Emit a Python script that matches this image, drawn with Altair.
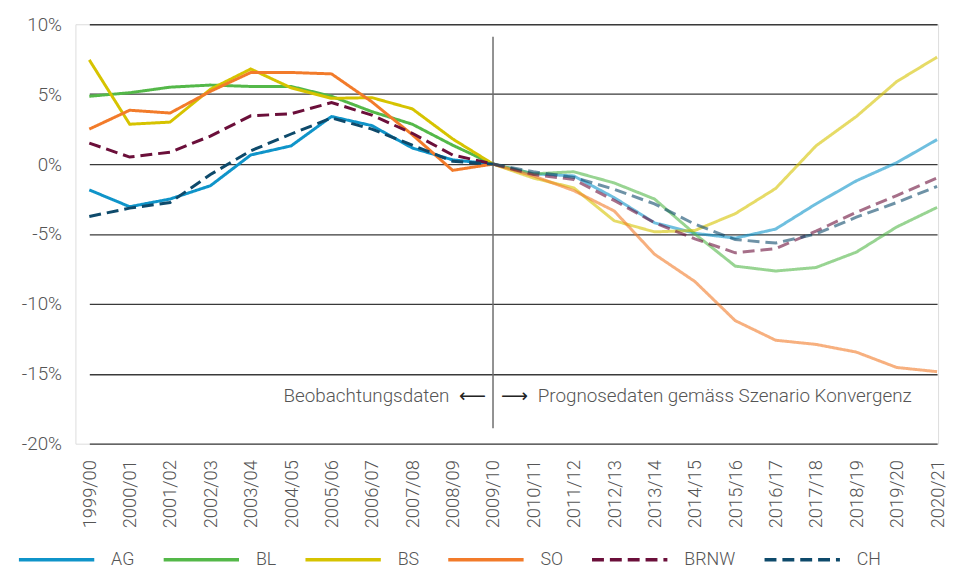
import altair as alt
import pandas as pd

categories = ["1999/00", "2000/01", "2001/02", "2002/03", "2003/04", "2004/05",
              "2005/06", "2006/07", "2007/08", "2008/09", "2009/10", "2010/11",
              "2011/12", "2012/13", "2013/14", "2014/15", "2015/16", "2016/17",
              "2017/18", "2018/19", "2019/20", "2020/21"]

AG = [-1.85, -3.05, -2.5, -1.55, 0.65, 1.3, 3.4, 2.75, 1.15, 0.3, 0.0,
      -0.7, -0.85, -2.4, -4.2, -4.95, -5.3, -4.65, -2.85, -1.2, 0.1, 1.75]
BL = [4.85, 5.1, 5.5, 5.65, 5.55, 5.55, 4.85, 3.75, 2.85, 1.35, 0.0,
      -0.7, -0.55, -1.35, -2.5, -5.0, -7.3, -7.65, -7.4, -6.3, -4.5, -3.1]
BS = [7.45, 2.85, 3.0, 5.35, 6.8, 5.45, 4.7, 4.75, 3.95, 1.8, 0.0,
      -1.0, -1.7, -4.05, -4.85, -4.75, -3.55, -1.75, 1.3, 3.4, 5.9, 7.65]
SO = [2.5, 3.85, 3.65, 5.2, 6.55, 6.55, 6.45, 4.45, 2.1, -0.45, 0.0,
      -0.85, -1.9, -3.35, -6.45, -8.4, -11.2, -12.6, -12.9, -13.45, -14.55, -14.85]
BRNW = [1.5, 0.5, 0.85, 2.0, 3.45, 3.6, 4.4, 3.5, 2.2, 0.65, 0.0,
        -0.75, -1.1, -2.6, -4.2, -5.35, -6.35, -6.05, -4.8, -3.45, -2.25, -1.0]
CH = [-3.75, -3.15, -2.75, -0.75, 0.95, 2.15, 3.3, 2.5, 1.35, 0.2, 0.0,
      -0.55, -0.95, -1.8, -2.85, -4.3, -5.4, -5.65, -5.0, -3.8, -2.75, -1.6]

series_names = ["AG", "BL", "BS", "SO", "BRNW", "CH"]
series_values = [AG, BL, BS, SO, BRNW, CH]
series_colors = ["#0f94c9", "#54b849", "#d6c300", "#f27b2a", "#6b0f3a", "#0e4a6b"]
series_dash = [[1, 0], [1, 0], [1, 0], [1, 0], [12, 6], [12, 6]]

annot_left = "Beobachtungsdaten"
annot_right = "Prognosedaten gemäss Szenario Konvergenz"

split_index = categories.index("2009/10")

rows = []
for name, vals in zip(series_names, series_values):
    for i, (c, v) in enumerate(zip(categories, vals)):
        if i <= split_index:
            rows.append({"cat": c, "value": v, "series": name, "phase": "obs"})
        if i >= split_index:
            rows.append({"cat": c, "value": v, "series": name, "phase": "fc"})
df = pd.DataFrame(rows)

FONT = "Roboto"
TXT = "#555555"

x_enc = alt.X("cat:O", sort=categories, title=None,
              scale=alt.Scale(type="point", range=[14, 869], padding=0),
              axis=alt.Axis(labelAngle=270, labelFontSize=18.5, labelColor=TXT,
                            labelFont=FONT, labelFontWeight=300, labelPadding=16,
                            domain=False, ticks=False, grid=False,
                            labelAlign="right", labelBaseline="middle"))

y_enc = alt.Y("value:Q", title=None,
              scale=alt.Scale(domain=[-20, 10], nice=False, zero=False),
              axis=alt.Axis(values=[-20, -15, -10, -5, 0, 5, 10],
                            labelExpr="datum.value + '%'",
                            labelFontSize=19, labelColor=TXT, labelFont=FONT,
                            labelFontWeight=300, labelPadding=14,
                            domain=False, ticks=False, grid=True,
                            gridColor="#3a3a3a", gridWidth=1.3))

legend_kw = dict(title=None, orient="none", direction="horizontal",
                 legendX=-59, legendY=500,
                 symbolType="stroke", symbolSize=5776,
                 symbolStrokeWidth=3.5, labelFontSize=18,
                 labelFont=FONT, labelFontWeight=300,
                 labelColor=TXT, labelOffset=15,
                 columnPadding=22, columns=6)

lines = alt.Chart(df).mark_line(strokeWidth=3).encode(
    x=x_enc,
    y=y_enc,
    color=alt.Color("series:N",
                    scale=alt.Scale(domain=series_names, range=series_colors),
                    sort=series_names,
                    legend=alt.Legend(**legend_kw)),
    strokeDash=alt.StrokeDash("series:N",
                              scale=alt.Scale(domain=series_names, range=series_dash),
                              sort=series_names,
                              legend=alt.Legend(**legend_kw)),
    opacity=alt.Opacity("phase:N",
                        scale=alt.Scale(domain=["obs", "fc"], range=[1.0, 0.6]),
                        legend=None),
    detail="phase:N",
)

divider = pd.DataFrame({"cat": ["2009/10"], "top": [9.1], "bottom": [-18.9]})
rule = alt.Chart(divider).mark_rule(color="#6e6e6e", strokeWidth=1.5).encode(
    x=alt.X("cat:O", sort=categories),
    y="top:Q",
    y2="bottom:Q",
)

annot = pd.DataFrame({"cat": ["2009/10"], "value": [-16.6],
                      "left": [annot_left], "right": [annot_right],
                      "la": ["\u27F5"], "ra": ["\u27F6"]})
base_t = alt.Chart(annot)
left_txt = base_t.mark_text(align="right", baseline="middle", dx=-44, fontSize=19,
                            font=FONT, fontWeight=300, color=TXT).encode(
    x=alt.X("cat:O", sort=categories), y="value:Q", text="left:N")
left_arrow = base_t.mark_text(align="right", baseline="middle", dx=-7, fontSize=19,
                              font="DejaVu Sans", color="#222222").encode(
    x=alt.X("cat:O", sort=categories), y="value:Q", text="la:N")
right_arrow = base_t.mark_text(align="left", baseline="middle", dx=8, fontSize=19,
                               font="DejaVu Sans", color="#222222").encode(
    x=alt.X("cat:O", sort=categories), y="value:Q", text="ra:N")
right_txt = base_t.mark_text(align="left", baseline="middle", dx=45, fontSize=19,
                             font=FONT, fontWeight=300, color=TXT).encode(
    x=alt.X("cat:O", sort=categories), y="value:Q", text="right:N")

chart = alt.layer(rule, lines, left_txt, left_arrow, right_arrow, right_txt).properties(
    width=870, height=423,
    autosize=alt.AutoSizeParams(type="none"),
    padding={"left": 68, "top": 14, "right": 9, "bottom": 124},
).configure_view(stroke=None).configure(background="white")

chart.save("out.html", embed_options={"renderer": "svg", "actions": False})
